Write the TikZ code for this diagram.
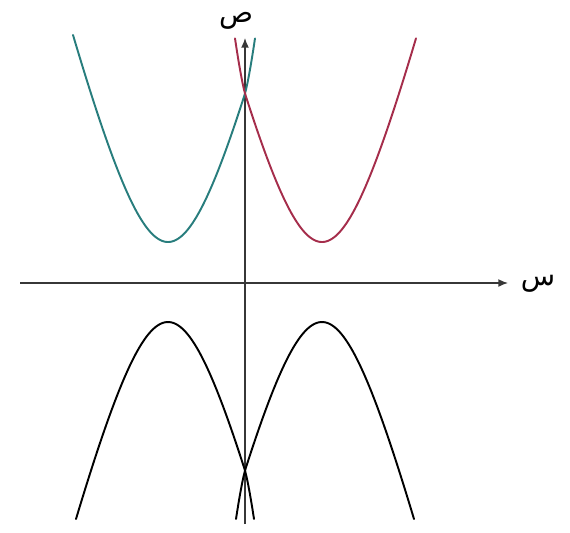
\documentclass[tikz,border=0pt]{standalone}
\usepackage{fontspec}
\newfontfamily\arabicfont[Script=Arabic]{DejaVu Sans}
\TeXXeTstate=1
\usetikzlibrary{arrows.meta}
\definecolor{axisgray}{RGB}{55,55,55}
\definecolor{tealcurve}{RGB}{40,125,125}
\definecolor{redcurve}{RGB}{165,45,75}
\begin{document}
\begin{tikzpicture}[x=0.02cm,y=-0.02cm,
  declare function={rise(\t)=4*(sqrt(\t*\t+3758)-61.3);
                    extra(\t)=(\t>77)*0.73*(max(\t-77,0.0001))^1.5;},
  axisline/.style={draw=axisgray,line width=0.8pt,-{Latex[length=5.5pt,width=4.5pt]}},
  curve/.style={line width=1.1pt,line join=round,line cap=round},
  lbl/.style={inner sep=0pt,font=\arabicfont\fontsize{16}{18}\selectfont}]
\useasboundingbox (0,0) rectangle (570,532);
% axes
\coordinate (xs) at (20,283);
\coordinate (xe) at (508,283);
\coordinate (ys) at (245,524);
\coordinate (ye) at (245,38);
\draw[axisline] (xs) -- (xe);
\draw[axisline] (ys) -- (ye);
\node[lbl] (sad) at (236,21) {\beginR ص\endR};
\node[lbl] (seen) at (538,284) {\beginR س\endR};
% upper curves
\draw[curve,tealcurve] plot[domain=-95:87,samples=120] ({168+\x},{242-rise(abs(\x))-extra(\x)});
\draw[curve,redcurve] plot[domain=-87:94,samples=120] ({322+\x},{242-rise(abs(\x))-extra(-\x)});
% lower curves
\draw[curve,black] plot[domain=-92:86,samples=120] ({168+\x},{322+rise(abs(\x))+extra(\x)});
\draw[curve,black] plot[domain=-86:92,samples=120] ({322+\x},{322+rise(abs(\x))+extra(-\x)});
\end{tikzpicture}
\end{document}
